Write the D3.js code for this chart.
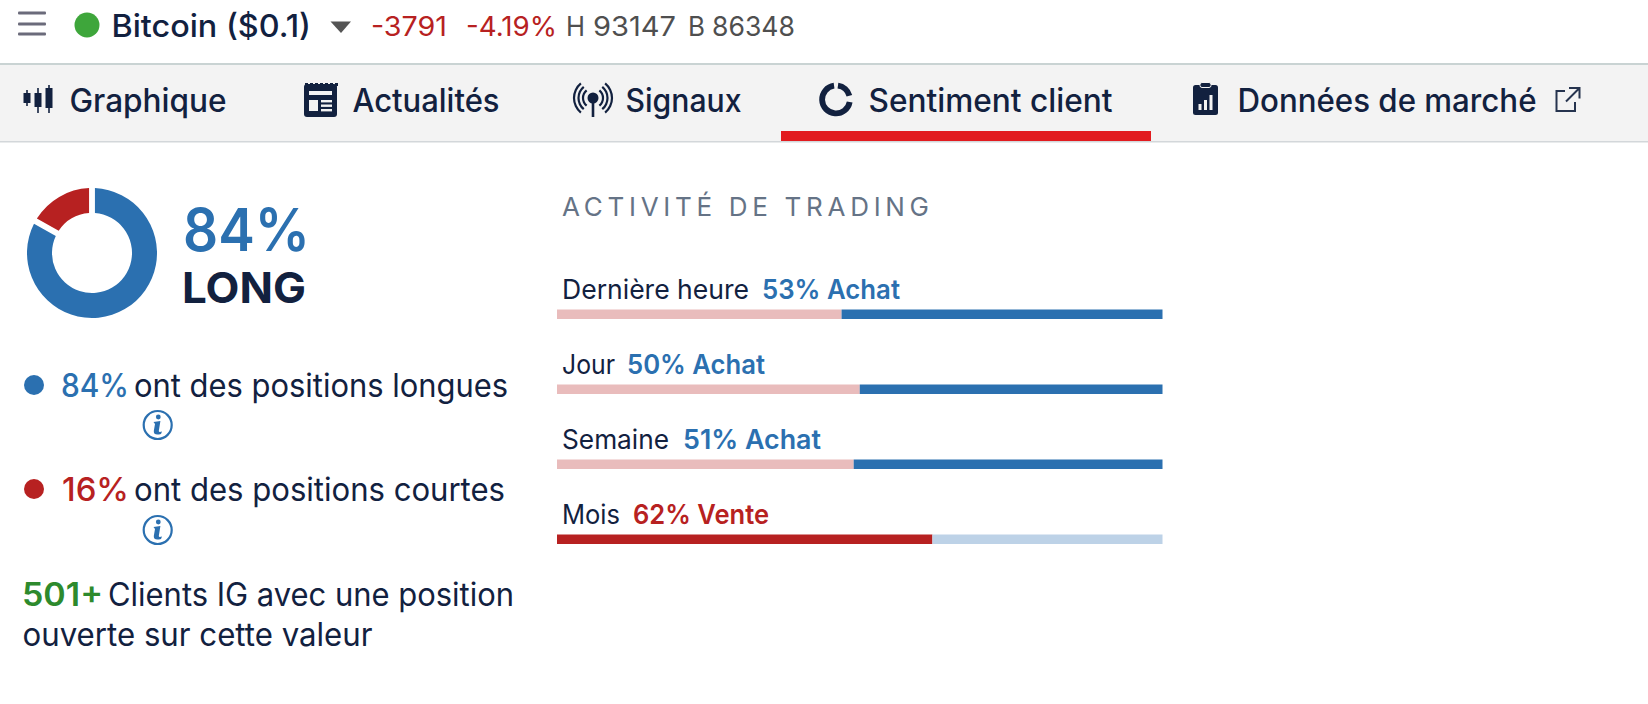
<!DOCTYPE html>
<html lang="fr"><head><meta charset="utf-8">
<script src="https://cdn.jsdelivr.net/npm/d3@7"></script>
<style>html,body{margin:0;padding:0;background:#fff;overflow:hidden}svg{display:block}text{font-family:Inter,"Noto Sans",sans-serif}</style>
</head><body><div id="c"></div>
<script>
const sentimentLabels = ["long", "short"];
const sentimentValues = [84, 16];
const periods = ["Dernière heure", "Jour", "Semaine", "Mois"];
const sellShares = [47, 50, 49, 62];
const readouts = ["53% Achat", "50% Achat", "51% Achat", "62% Vente"];
const tabs = ["Graphique", "Actualités", "Signaux", "Sentiment client", "Données de marché"];

const NAVY="#12213f", BLUE="#2b70b0", RED="#b72121", PALE_RED="#e9bcbc", PALE_BLUE="#bdd2e7", GREEN="#2d8a2d", GREY="#4f4f4f";
const svg=d3.select("#c").append("svg").attr("width",1648).attr("height",704);
function txt(x,y,s,size,weight,fill,w,adjust){
  const t=svg.append("text").attr("x",x).attr("y",y).text(s).attr("font-size",size).attr("font-weight",weight).attr("fill",fill);
  if(w)t.attr("textLength",w).attr("lengthAdjust",adjust||"spacingAndGlyphs");
  return t;
}
// header
const header=svg.append("g");
[13,24,34].forEach(y=>header.append("rect").attr("x",18).attr("y",y-1.5).attr("width",28).attr("height",3).attr("rx",1).attr("fill","#6b6b7b"));
header.append("circle").attr("cx",87).attr("cy",25).attr("r",12.5).attr("fill","#3ea63b");
txt(111.5,37,"Bitcoin ($0.1)",31,500,NAVY,199.5);
header.append("path").attr("d","M330.5 21.5H351L341 33Z").attr("fill","#555");
txt(371,36,"-3791",27,400,RED,76);
txt(466,36,"-4.19%",27,400,RED,91);
txt(566,36,"H",27,400,GREY,19);
txt(593,36,"93147",27,400,GREY,83);
txt(688,36,"B",27,400,GREY,17);
txt(712,36,"86348",27,400,GREY,83);
// tab bar
svg.append("rect").attr("x",0).attr("y",64).attr("width",1648).attr("height",78).attr("fill","#f3f3f3");
svg.append("rect").attr("x",0).attr("y",63).attr("width",1648).attr("height",2).attr("fill","#c9d3d3");
svg.append("rect").attr("x",0).attr("y",141).attr("width",1648).attr("height",1.5).attr("fill","#d3d7da");
svg.append("rect").attr("x",781).attr("y",131).attr("width",370).attr("height",10).attr("fill","#e21b1f");
const tabX=[69.5,352.5,625.5,868.5,1237.5], tabW=[157,147,116,244,299];
tabs.forEach((t,i)=>txt(tabX[i],112,t,32,500,NAVY,tabW[i]));
// candle icon
const ci=svg.append("g").attr("fill",NAVY).attr("stroke",NAVY);
[[27,90,106,93,103],[38,88,113,93,107],[49,85,113,88,108]].forEach(([x,a,b,c,d])=>{
  ci.append("line").attr("x1",x).attr("x2",x).attr("y1",a).attr("y2",b).attr("stroke-width",1.6);
  ci.append("rect").attr("x",x-3.5).attr("y",c).attr("width",7).attr("height",d-c).attr("stroke","none");
});
// newspaper icon
svg.append("rect").attr("x",304).attr("y",84).attr("width",33).attr("height",33).attr("rx",3).attr("fill",NAVY);
d3.range(305,337,5).forEach(x=>svg.append("rect").attr("x",x).attr("y",83).attr("width",3).attr("height",3).attr("fill",NAVY));
svg.append("rect").attr("x",309).attr("y",91).attr("width",23).attr("height",4).attr("fill","#f3f3f3");
svg.append("rect").attr("x",309).attr("y",100).attr("width",9).attr("height",11).attr("fill","#f3f3f3");
[100,104.5,109].forEach(y=>svg.append("rect").attr("x",321).attr("y",y).attr("width",11).attr("height",2.4).attr("fill","#f3f3f3"));
// signal icon
svg.append("circle").attr("cx",593).attr("cy",98).attr("r",5.5).attr("fill",NAVY);
svg.append("line").attr("x1",593).attr("x2",593).attr("y1",100).attr("y2",117).attr("stroke",NAVY).attr("stroke-width",2.6);
[[10,2.2],[14.5,2.2],[19,2.2]].forEach(([r,w])=>{
  [0,1].forEach(k=>{
    const a=d3.arc().innerRadius(r-w/2).outerRadius(r+w/2);
    svg.append("path").attr("transform","translate(593,98)").attr("fill",NAVY)
      .attr("d",k?a({startAngle:Math.PI*0.22,endAngle:Math.PI*0.78}):a({startAngle:-Math.PI*0.78,endAngle:-Math.PI*0.22}));
  });
});
// sentiment icon
const iconArc=d3.arc().innerRadius(11).outerRadius(16.8);
svg.append("path").attr("transform","translate(836,99.5)").attr("fill",NAVY).attr("d",iconArc({startAngle:0.14,endAngle:1.3}));
svg.append("path").attr("transform","translate(836,99.5)").attr("fill",NAVY).attr("d",iconArc({startAngle:1.75,endAngle:Math.PI*2-0.14}));
// clipboard icon
svg.append("rect").attr("x",1193).attr("y",85).attr("width",25).attr("height",30).attr("rx",2.5).attr("fill",NAVY);
svg.append("rect").attr("x",1200).attr("y",82.5).attr("width",11).attr("height",5).attr("rx",2).attr("fill",NAVY).attr("stroke","#f3f3f3").attr("stroke-width",1);
[[1198.5,104,3],[1204,100,3],[1209.5,95,3]].forEach(([x,y,w])=>svg.append("rect").attr("x",x).attr("y",y).attr("width",w).attr("height",110-y).attr("fill","#f3f3f3"));
// external link icon
svg.append("path").attr("d","M1565 91H1556.5V111H1575V102M1569 88H1579.5V98.5M1579 88.5L1566 101.5").attr("fill","none").attr("stroke","#26344f").attr("stroke-width",2);

// donut
const pie=d3.pie().sort(null).value(d=>d).padAngle(5/65);
const arc=d3.arc().innerRadius(40).outerRadius(65);
const colour=d3.scaleOrdinal().domain(sentimentLabels).range([BLUE,RED]);
svg.append("g").attr("transform","translate(92,253)").selectAll("path").data(pie(sentimentValues)).join("path")
  .attr("d",arc).attr("fill",(d,i)=>colour(sentimentLabels[i]));
txt(183,251,sentimentValues[0]+"%",59,600,BLUE,127);
txt(182,303,"LONG",43,700,NAVY,124);

// legend rows
function info(cy){
  svg.append("circle").attr("cx",157.7).attr("cy",cy).attr("r",14).attr("fill","none").attr("stroke",BLUE).attr("stroke-width",2.2);
  svg.append("circle").attr("cx",158.3).attr("cy",cy-8).attr("r",2.4).attr("fill",BLUE);
  svg.append("path").attr("d",`M153.5 ${cy-3}L160.4 ${cy-4}L158.8 ${cy+6}Q158.8 ${cy+7.5} 162 ${cy+6.5}L161 ${cy+9}Q153.5 ${cy+11} 153.8 ${cy+6}L155 ${cy-1}Z`).attr("fill",BLUE);
}
svg.append("circle").attr("cx",34).attr("cy",385).attr("r",10).attr("fill",BLUE);
txt(61,396.5,sentimentValues[0]+"%",32,500,BLUE,68);
txt(134,396.5,"ont des positions longues",32,400,NAVY,374);
info(425);
svg.append("circle").attr("cx",34).attr("cy",489).attr("r",10).attr("fill",RED);
txt(62,501,sentimentValues[1]+"%",32,500,RED,67);
txt(134,501,"ont des positions courtes",32,400,NAVY,371);
info(530);
txt(22,606,"501+",32,600,GREEN,81);
txt(108,606,"Clients IG avec une position",32,400,NAVY,406);
txt(22.5,646,"ouverte sur cette valeur",32,400,NAVY,350);

// activity
txt(562,216,"ACTIVITÉ DE TRADING",26,400,"#657386",367,"spacing");
const xs=d3.scaleLinear().domain([0,100]).range([557,1162.5]);
const ys=d3.scalePoint().domain(periods).range([309.5,534.5]);
const barH=9.5;
const labelW=[187,53,107,58], valX=[762,627,683,633], valW=[138,138,138,136];
periods.forEach((p,i)=>{
  const sell=sellShares[i], major=sell>50;
  const y=ys(p);
  svg.append("rect").attr("x",xs(0)).attr("y",y).attr("width",xs(sell)-xs(0)).attr("height",barH).attr("fill",major?RED:PALE_RED);
  svg.append("rect").attr("x",xs(sell)).attr("y",y).attr("width",xs(100)-xs(sell)).attr("height",barH).attr("fill",major?PALE_BLUE:BLUE);
  txt(562,y-11,p,27,400,NAVY,labelW[i]);
  txt(valX[i],y-11,readouts[i],27,600,major?RED:BLUE,valW[i]);
});
</script></body></html>
